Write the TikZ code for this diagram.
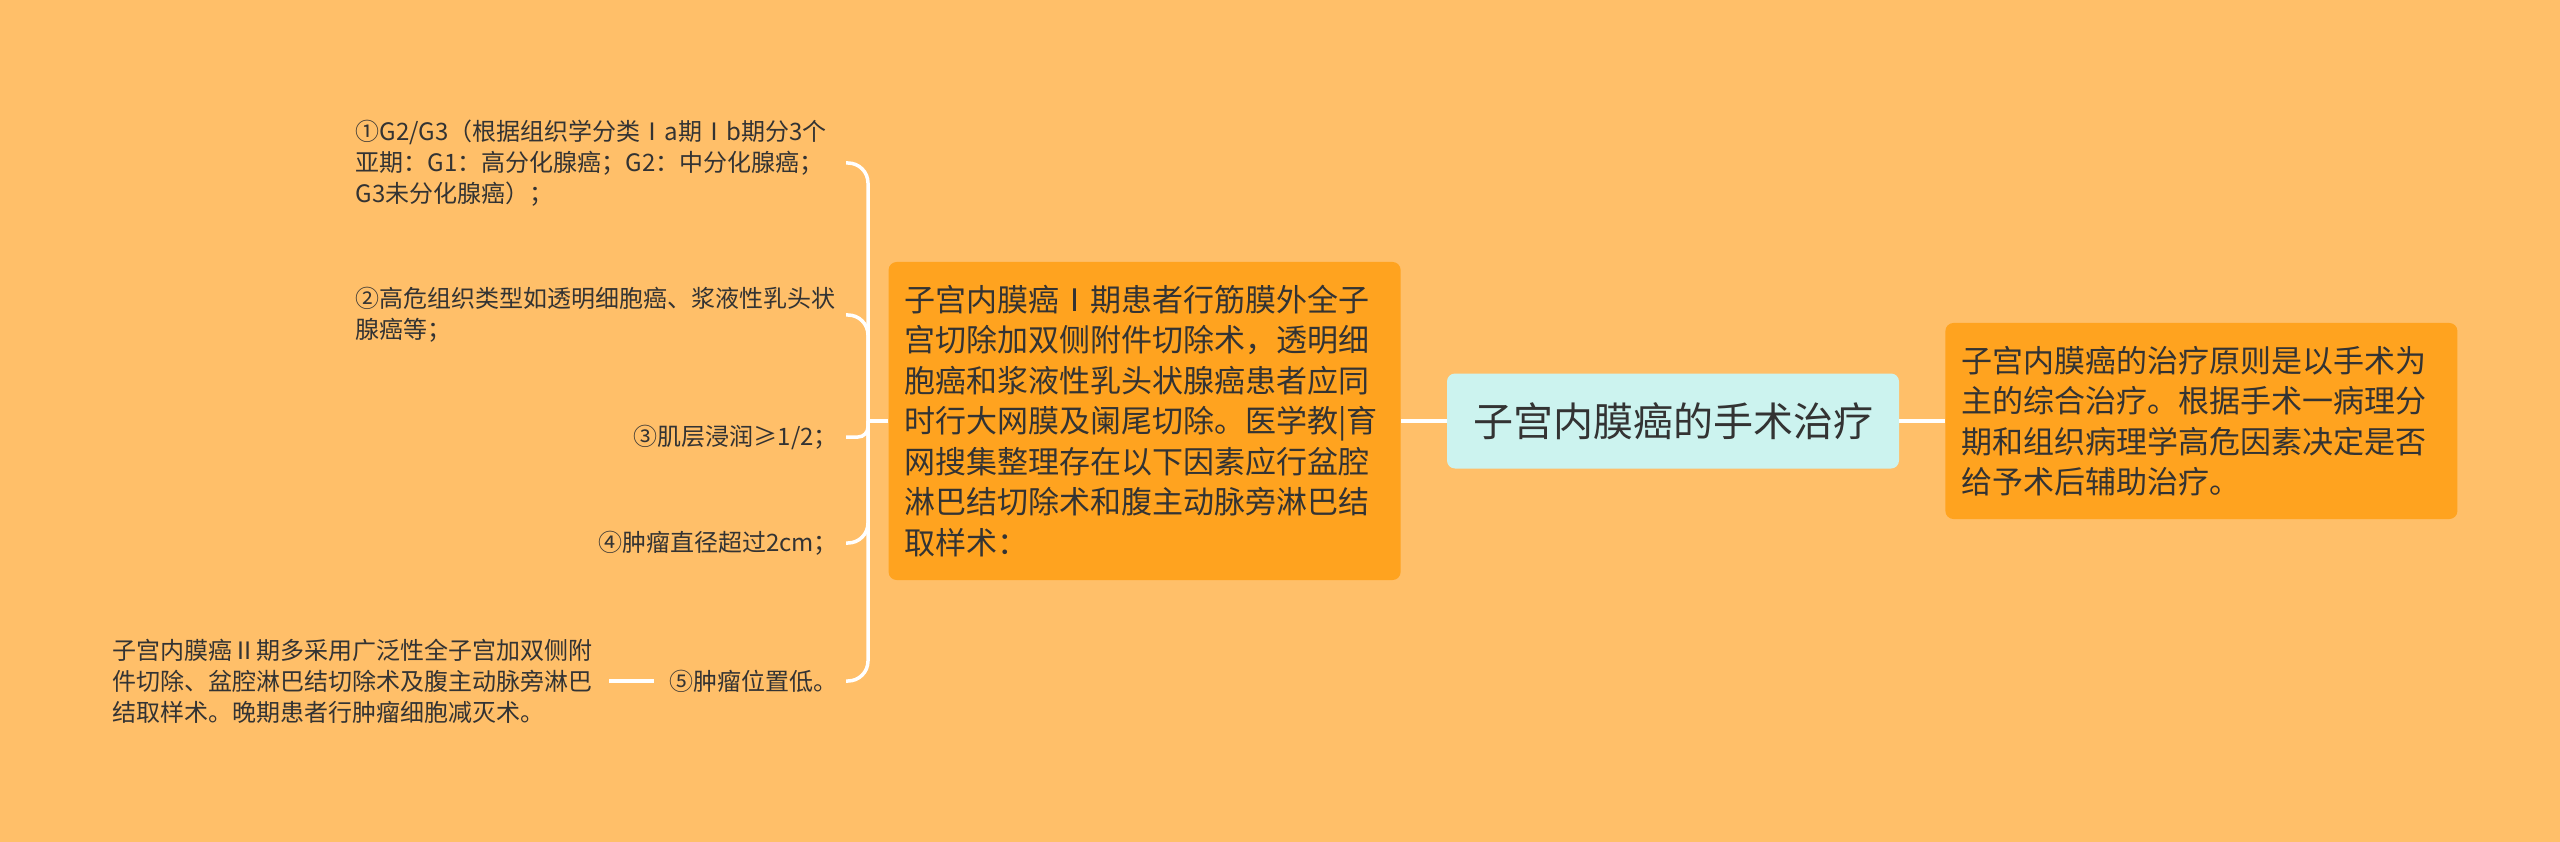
\documentclass[tikz,border=0pt]{standalone}
\usepackage{fontspec}
\setmainfont{Noto Sans CJK SC}
\usetikzlibrary{positioning}
\definecolor{bgorange}{HTML}{FFBF69}
\definecolor{boxorange}{HTML}{FFA31F}
\definecolor{rootcyan}{HTML}{CCF3EF}
\definecolor{ink}{HTML}{333333}

\begin{document}
\begin{tikzpicture}[x=1pt, y=-1pt,
    root/.style={rectangle, rounded corners=8pt, fill=rootcyan, text=ink,
      minimum width=452pt, minimum height=95pt, font=\fontsize{40}{48}\selectfont},
    topic/.style={rectangle, rounded corners=8pt, fill=boxorange, text=ink,
      text width=480pt, inner xsep=16pt, align=left, font=\fontsize{31}{40.5}\selectfont},
    item/.style={inner xsep=8pt, inner ysep=4pt, text=ink, font=\fontsize{24}{31}\selectfont},
    link/.style={draw=white, line width=3.5pt}]
  \path[use as bounding box, fill=bgorange] (0,0) rectangle (2560,842);
  \node[root] (root) at (1673,421) {子宫内膜癌的手术治疗};
  \node[topic, minimum height=318pt, left=46pt of root] (cond) {子宫内膜癌Ⅰ期患者行筋膜外全子\\宫切除加双侧附件切除术，透明细\\胞癌和浆液性乳头状腺癌患者应同\\时行大网膜及阑尾切除。医学教|育\\网搜集整理存在以下因素应行盆腔\\淋巴结切除术和腹主动脉旁淋巴结\\取样术：};
  \node[topic, minimum height=196pt, right=46pt of root] (rule) {子宫内膜癌的治疗原则是以手术为\\主的综合治疗。根据手术一病理分\\期和组织病理学高危因素决定是否\\给予术后辅助治疗。};
  \coordinate (bar) at (868,421);
  \node[item, anchor=east, text width=482pt, align=left] (g1) at (846,163) {①G2/G3（根据组织学分类Ⅰa期Ⅰb期分3个\\亚期：G1：高分化腺癌；G2：中分化腺癌；\\G3未分化腺癌）；};
  \node[item, anchor=east, text width=482pt, align=left] (g2) at (846,315) {②高危组织类型如透明细胞癌、浆液性乳头状\\腺癌等；};
  \node[item, anchor=east] (g3) at (846,437) {③肌层浸润≥1/2；};
  \node[item, anchor=east] (g4) at (846,543) {④肿瘤直径超过2cm；};
  \node[item, anchor=east] (g5) at (846,681) {⑤肿瘤位置低。};
  \node[item, anchor=east, align=left] (stage) at (601,681) {子宫内膜癌Ⅱ期多采用广泛性全子宫加双侧附\\件切除、盆腔淋巴结切除术及腹主动脉旁淋巴\\结取样术。晚期患者行肿瘤细胞减灭术。};
  \draw[link] (root) -- (cond);
  \draw[link] (root) -- (rule);
  \draw[link] (cond) -- (bar);
  \draw[link, rounded corners=20pt] (g1.east) -| (bar);
  \draw[link, rounded corners=20pt] (g2.east) -| (bar);
  \draw[link, rounded corners=10pt] (g3.east) -| (bar);
  \draw[link, rounded corners=20pt] (g4.east) -| (bar);
  \draw[link, rounded corners=20pt] (g5.east) -| (bar);
  \draw[link, shorten <=8pt, shorten >=8pt] (stage) -- (g5);
\end{tikzpicture}
\end{document}
